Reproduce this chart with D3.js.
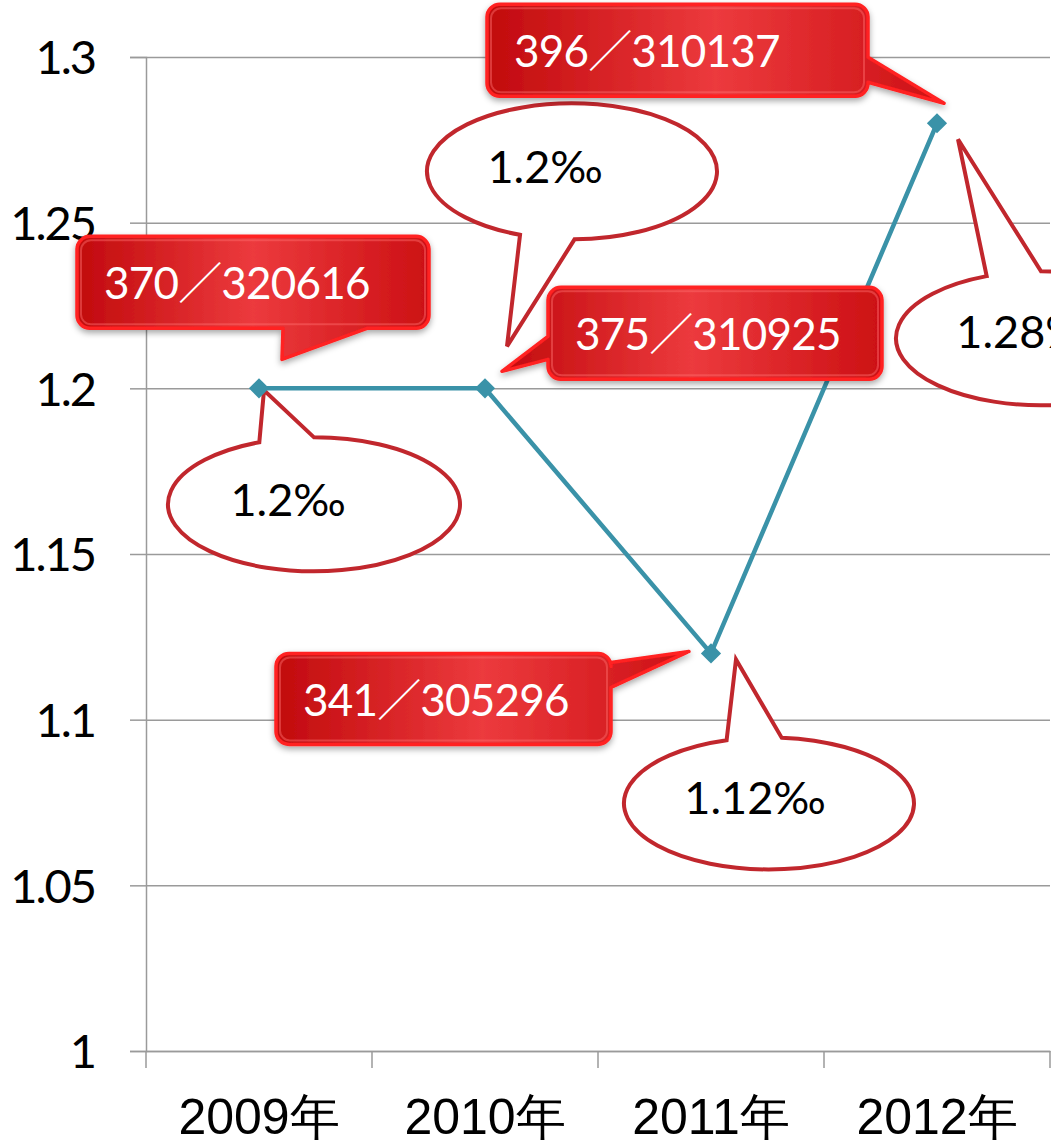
<!DOCTYPE html>
<html><head><meta charset="utf-8">
<script src="https://cdn.jsdelivr.net/npm/d3@7"></script>
<style>body{margin:0;background:#fff}svg{display:block}</style>
</head><body>
<script>
// Annual rate (‰) with case count / population per year
const years = ["2009年", "2010年", "2011年", "2012年"];
const rates = [1.2, 1.2, 1.12, 1.28];
const rateLabels = ["1.2‰", "1.2‰", "1.12‰", "1.28‰"];
const cases = [370, 375, 341, 396];
const population = [320616, 310925, 305296, 310137];
const yTicks = [1, 1.05, 1.1, 1.15, 1.2, 1.25, 1.3];

const W = 1051, H = 1145;
const FONT = "Lato, 'Noto Sans CJK SC', sans-serif";

const x = d3.scaleBand().domain(years).range([146, 1050]).padding(0);
const y = d3.scaleLinear().domain([1, 1.3]).range([1051, 57]);
const cx = d => x(d) + x.bandwidth() / 2;

// Callout geometry, relative to each data point
const boxLayout = [
  {bx: -182, by: -152, w: 352, h: 92, side: "bottom", s1: 206, s2: 290, tip: [23, -29]},
  {bx: 63,   by: -101, w: 334, h: 92, side: "left",   s1: 49,  s2: 72,  tip: [17, -17]},
  {bx: -435, by: 0,    w: 335, h: 91, side: "right",  s1: 9,   s2: 34,  tip: [-22, -2]},
  {bx: -450, by: -119, w: 381, h: 92, side: "right",  s1: 53,  s2: 78,  tip: [7, -20]}
];
const ovalLayout = [
  {dx: 55,  dy: 116,  rx: 146, ry: 67, a1: 248, a2: 270, tip: [5, 2],    tx: -26, ty: 12},
  {dx: 87,  dy: -217, rx: 145, ry: 68, a1: 89,  a2: 111, tip: [22, -42], tx: -27, ty: 12},
  {dx: 58,  dy: 150,  rx: 145, ry: 66, a1: 253, a2: 275, tip: [25, 6],   tx: -14, ty: 11},
  {dx: 104, dy: 215,  rx: 145, ry: 67, a1: 248, a2: 270, tip: [21, 16],  tx: -14, ty: 10}
];

const svg = d3.select("body").append("svg").attr("width", W).attr("height", H)
  .style("font-family", FONT);

const defs = svg.append("defs");
const grad = defs.append("linearGradient").attr("id", "boxFill")
  .attr("x1", 0).attr("x2", 1).attr("y1", 0).attr("y2", 0);
grad.append("stop").attr("offset", "0%").attr("stop-color", "#c10a0d");
grad.append("stop").attr("offset", "50%").attr("stop-color", "#ec3a3d");
grad.append("stop").attr("offset", "100%").attr("stop-color", "#cc1014");
const shadow = defs.append("filter").attr("id", "shadow")
  .attr("x", "-10%").attr("y", "-10%").attr("width", "120%").attr("height", "130%");
shadow.append("feDropShadow").attr("dx", 0).attr("dy", 3).attr("stdDeviation", 3)
  .attr("flood-color", "#000").attr("flood-opacity", 0.35);

// Gridlines
svg.append("g").attr("transform", "translate(146,0)")
  .call(d3.axisLeft(y).tickValues(yTicks).tickSize(-(1050 - 146)).tickFormat(""))
  .call(g => g.select(".domain").remove())
  .call(g => g.selectAll("line").attr("stroke", "#9a9a9a").attr("stroke-width", 1.5));

// Y axis
svg.append("g").attr("transform", "translate(146,0)")
  .call(d3.axisLeft(y).tickValues(yTicks).tickSize(16).tickPadding(35).tickFormat(d => String(d)))
  .call(g => g.select(".domain").attr("stroke", "#9a9a9a").attr("stroke-width", 1.5))
  .call(g => g.selectAll("line").attr("stroke", "#9a9a9a").attr("stroke-width", 1.5))
  .call(g => g.selectAll("text").attr("fill", "#000").attr("font-size", 47)
    .attr("letter-spacing", -2).attr("font-family", FONT).attr("dy", "0.36em"));

// X axis
const xAxis = svg.append("g").attr("transform", "translate(0,1051)")
  .call(d3.axisBottom(x).tickSize(0).tickFormat(""))
  .call(g => g.select(".domain").attr("stroke", "#9a9a9a").attr("stroke-width", 1.5));
xAxis.selectAll(".edge").data([146, ...years.map(d => x(d) + x.bandwidth())]).join("line")
  .attr("x1", d => d).attr("x2", d => d).attr("y1", 0).attr("y2", 17)
  .attr("stroke", "#9a9a9a").attr("stroke-width", 1.5);
xAxis.selectAll(".lbl").data(years).join("text")
  .attr("x", d => cx(d)).attr("y", 83).attr("text-anchor", "middle")
  .attr("font-size", 50).attr("fill", "#000").text(d => d);

// Series line
const pts = years.map((d, i) => [cx(d), y(rates[i])]);
svg.append("path").datum(pts).attr("d", d3.line())
  .attr("fill", "none").attr("stroke", "#3a92a8").attr("stroke-width", 4.5);

// Rounded box with a pointer on one side
function boxPath(x0, y0, w, h, r, side, s1, s2, tx, ty) {
  const x1 = x0 + w, y1 = y0 + h;
  let p = `M${x0 + r},${y0}`;
  if (side === "top") p += `L${x0 + s1},${y0}L${tx},${ty}L${x0 + s2},${y0}`;
  p += `L${x1 - r},${y0}A${r},${r} 0 0 1 ${x1},${y0 + r}`;
  if (side === "right") p += `L${x1},${y0 + s1}L${tx},${ty}L${x1},${y0 + s2}`;
  p += `L${x1},${y1 - r}A${r},${r} 0 0 1 ${x1 - r},${y1}`;
  if (side === "bottom") p += `L${x0 + s2},${y1}L${tx},${ty}L${x0 + s1},${y1}`;
  p += `L${x0 + r},${y1}A${r},${r} 0 0 1 ${x0},${y1 - r}`;
  if (side === "left") p += `L${x0},${y0 + s2}L${tx},${ty}L${x0},${y0 + s1}`;
  p += `L${x0},${y0 + r}A${r},${r} 0 0 1 ${x0 + r},${y0}Z`;
  return p;
}

// Oval with a pointer between two angles
function ovalPath(c, o, px, py) {
  const P = a => [c[0] + o.rx * Math.cos(a * Math.PI / 180), c[1] + o.ry * Math.sin(a * Math.PI / 180)];
  const p1 = P(o.a1), p2 = P(o.a2);
  return `M${p2[0]},${p2[1]}A${o.rx},${o.ry} 0 1 1 ${p1[0]},${p1[1]}L${px},${py}Z`;
}

// Oval callouts with the rate
const ovals = svg.append("g");
years.forEach((d, i) => {
  const o = ovalLayout[i], [px, py] = pts[i];
  const c = [px + o.dx, py + o.dy];
  ovals.append("path").attr("d", ovalPath(c, o, px + o.tip[0], py + o.tip[1]))
    .attr("fill", "#fff").attr("stroke", "#c1272d").attr("stroke-width", 4)
    .attr("stroke-linejoin", "miter");
  ovals.append("text").attr("x", c[0] + o.tx).attr("y", c[1] + o.ty)
    .attr("text-anchor", "middle").attr("font-size", 45).attr("fill", "#000")
    .text(rateLabels[i]);
});

// Red box callouts with cases / population
const boxes = svg.append("g");
years.forEach((d, i) => {
  const b = boxLayout[i], [px, py] = pts[i];
  const x0 = px + b.bx, y0 = py + b.by;
  boxes.append("path")
    .attr("d", boxPath(x0, y0, b.w, b.h, 13, b.side, b.s1, b.s2, px + b.tip[0], py + b.tip[1]))
    .attr("fill", "url(#boxFill)").attr("stroke", "#ff2020").attr("stroke-width", 3.5)
    .attr("stroke-linejoin", "round").attr("filter", "url(#shadow)");
  boxes.append("rect").attr("x", x0 + 4).attr("y", y0 + 4).attr("width", b.w - 8).attr("height", b.h - 8)
    .attr("rx", 10).attr("fill", "none").attr("stroke", "rgba(255,110,110,0.45)").attr("stroke-width", 2);
  boxes.append("text").attr("x", x0 + 27).attr("y", y0 + 63)
    .attr("font-size", 44).attr("letter-spacing", -0.8).attr("fill", "#fff")
    .text(`${cases[i]}／${population[i]}`);
});

// Markers
svg.append("g").selectAll("path").data(pts).join("path")
  .attr("transform", p => `translate(${p[0]},${p[1]})`)
  .attr("d", d3.symbol(d3.symbolDiamond2, 260))
  .attr("fill", "#3a92a8");
</script>
</body></html>
